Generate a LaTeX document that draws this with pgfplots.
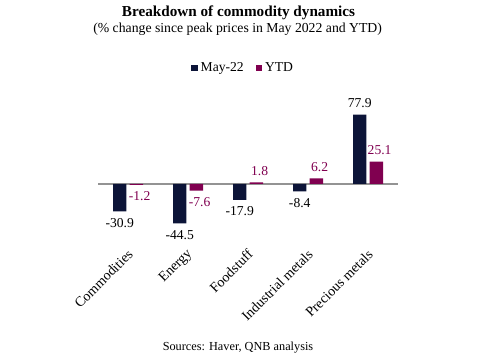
\documentclass[border=0pt]{standalone}
\usepackage{pgfplots}
\pgfplotsset{compat=1.18}
\usepackage{fontspec}
\setmainfont{Liberation Serif}
\definecolor{navy}{RGB}{12,20,56}
\definecolor{maroon}{RGB}{128,0,80}
\begin{document}
\begin{tikzpicture}
\useasboundingbox (0,0) rectangle (360.75pt,270.75pt);
\node[font=\fontsize{11.4}{13}\selectfont\bfseries] at (178.9pt,261.4pt) {Breakdown of commodity dynamics};
\node[font=\fontsize{10.3}{12}\selectfont] at (178.2pt,249pt) {(\% change since peak prices in May 2022 and YTD)};
\node[font=\fontsize{9.2}{11}\selectfont] at (178.5pt,9.75pt) {Sources: Haver, QNB analysis};
\begin{axis}[
 at={(73.5pt,80.8pt)}, anchor=south west,
 scale only axis, width=225pt, height=108.8pt,
 xmin=-0.5, xmax=4.5, ymin=-78, ymax=85,
 axis line style={draw=none}, major tick length=0pt, ytick=\empty,
 xtick={0,1,2,3,4},
 xticklabels={Commodities,Energy,Foodstuff,Industrial metals,Precious metals},
 xticklabel style={xshift=1.8pt, yshift=1pt, rotate=45, anchor=east, inner sep=0pt, font=\fontsize{10.5}{12}\selectfont},
 clip=false,
 ybar, bar width=10.1pt,
 /pgf/number format/fixed, /pgf/number format/fixed zerofill,
 /pgf/number format/precision=1, /pgf/number format/assume math mode=true,
 nodes near coords,
 every node near coord/.append style={font=\fontsize{10.2}{12}\selectfont, inner sep=5pt},
 legend style={at={(0.485,1.277)}, anchor=center, draw=none, fill=none,
   legend columns=2, font=\fontsize{10.2}{12}\selectfont,
   /tikz/every even column/.append style={column sep=7pt}, inner sep=0pt},
 legend image code/.code={\fill[#1,draw=none] (0pt,-2.5pt) rectangle (5pt,2.5pt);},
]
\draw[gray!85, line width=1pt] (axis cs:-0.5,0) -- (axis cs:4.5,0);
\addplot[fill=navy, draw=none, bar shift=-6.2pt,
  every node near coord/.append style={text=black}]
  coordinates {(0,-30.9) (1,-44.5) (2,-17.9) (3,-8.4) (4,77.9)};
\addplot[fill=maroon, draw=none, bar shift=6.2pt,
  every node near coord/.append style={text=maroon, xshift=2.5pt}]
  coordinates {(0,-1.2) (1,-7.6) (2,1.8) (3,6.2) (4,25.1)};
\legend{May-22,YTD}
\end{axis}
\end{tikzpicture}
\end{document}
